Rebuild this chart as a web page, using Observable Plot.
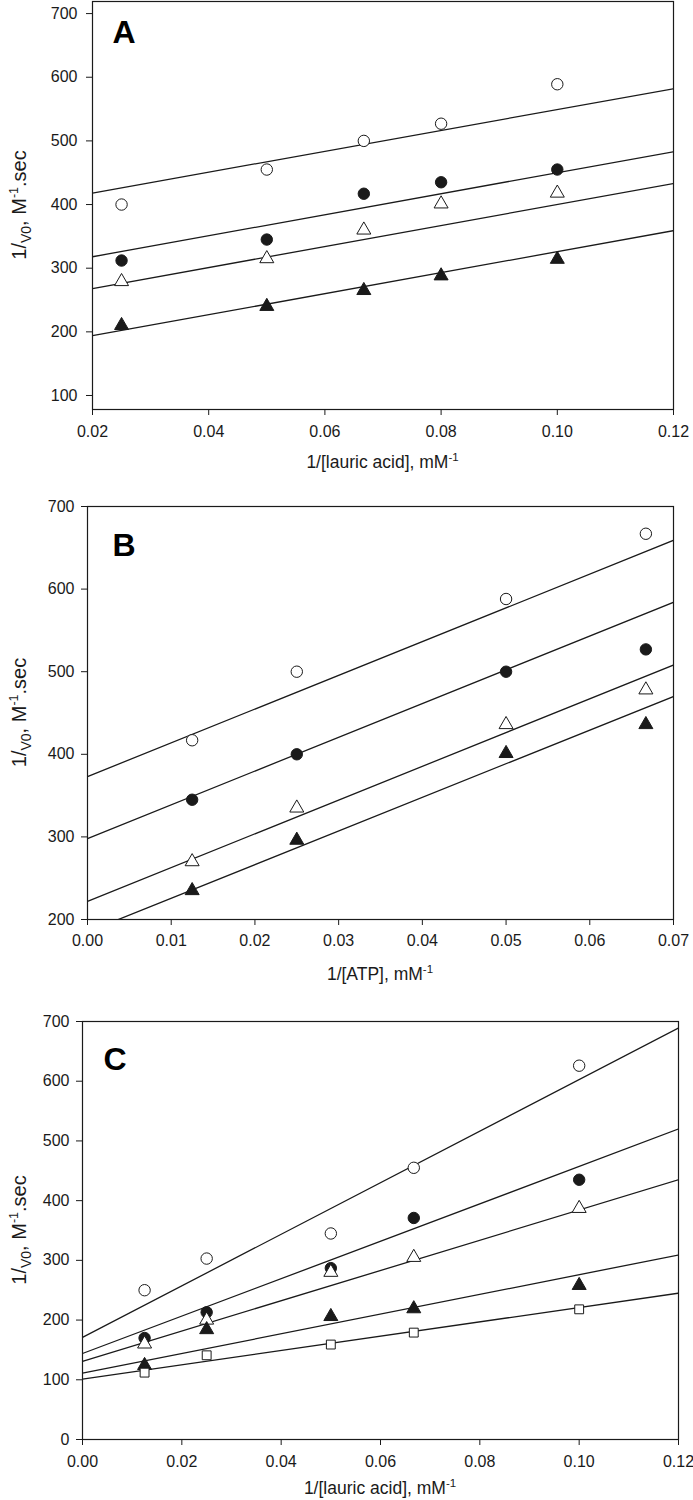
<!DOCTYPE html>
<html><head><meta charset="utf-8">
<script src="https://cdn.jsdelivr.net/npm/d3@7"></script>
<script src="https://cdn.jsdelivr.net/npm/@observablehq/plot@0.6"></script>
<style>
body{margin:0;background:#fff;}
#wrap{position:relative;width:693px;height:1500px;background:#fff;overflow:hidden;}
#wrap svg{position:absolute;left:0;}
</style></head><body><div id="wrap"></div>
<script>
// ---------- Panel A: 1/v0 vs 1/[lauric acid] ----------
const xA = [0.025, 0.05, 0.0667, 0.08, 0.1];
const A_openCircle   = [400, 455, 500, 527, 589];
const A_filledCircle = [312, 345, 417, 435, 455];
const A_openTri      = [279, 315, 360, 401, 418];
const A_filledTri    = [210, 240, 265, 288, 314];
const A_lineX = [0.02, 0.12];
const A_lineOpenCircle   = [418, 582];
const A_lineFilledCircle = [318, 483];
const A_lineOpenTri      = [268, 433];
const A_lineFilledTri    = [194, 359];
const A_xTicks = [0.02, 0.04, 0.06, 0.08, 0.10, 0.12];
const A_yTicks = [100, 200, 300, 400, 500, 600, 700];

// ---------- Panel B: 1/v0 vs 1/[ATP] ----------
const xB = [0.0125, 0.025, 0.05, 0.0667];
const B_openCircle   = [417, 500, 588, 667];
const B_filledCircle = [345, 400, 500, 527];
const B_openTri      = [270, 335, 436, 478];
const B_filledTri    = [235, 296, 401, 436];
const B_lineX = [0, 0.07];
const B_lineOpenCircle   = [373, 659];
const B_lineFilledCircle = [298, 584];
const B_lineOpenTri      = [222, 508];
const B_lineFilledTri    = [185, 470];
const B_xTicks = [0, 0.01, 0.02, 0.03, 0.04, 0.05, 0.06, 0.07];
const B_yTicks = [200, 300, 400, 500, 600, 700];

// ---------- Panel C: 1/v0 vs 1/[lauric acid] ----------
const xC = [0.0125, 0.025, 0.05, 0.0667, 0.1];
const C_openCircle   = [250, 303, 345, 455, 626];
const C_filledCircle = [170, 213, 287, 371, 435];
const C_openTri      = [160, 200, 280, 305, 387];
const C_filledTri    = [124, 184, 206, 219, 258];
const C_openSquare   = [112, 141, 159, 179, 218];
const C_lineX = [0, 0.12];
const C_lineOpenCircle   = [171, 689];
const C_lineFilledCircle = [144, 520];
const C_lineOpenTri      = [131, 435];
const C_lineFilledTri    = [111, 309];
const C_lineOpenSquare   = [101, 245];
const C_xTicks = [0, 0.02, 0.04, 0.06, 0.08, 0.10, 0.12];
const C_yTicks = [0, 100, 200, 300, 400, 500, 600, 700];

const FONT = "'Liberation Sans', Arial, Helvetica, sans-serif";
const INK = "#1a1a1a";

function panel(cfg) {
  const marks = [];
  for (const l of cfg.lines) {
    marks.push(Plot.line([{x: cfg.lineX[0], y: l[0]}, {x: cfg.lineX[1], y: l[1]}],
      {x: "x", y: "y", stroke: INK, strokeWidth: 1.3, clip: true}));
  }
  for (const s of cfg.series) {
    marks.push(Plot.dot(cfg.x.map((x, i) => ({x, y: s.values[i]})),
      {x: "x", y: "y", symbol: s.symbol, r: s.r || 5.7, fill: s.fill, stroke: INK, strokeWidth: 1}));
  }
  marks.push(Plot.frame({stroke: INK, strokeWidth: 1.2}));
  marks.push(Plot.axisX({ticks: cfg.xTicks, tickFormat: d3.format(".2f"), tickSize: 6, tickPadding: cfg.xPad, label: null, stroke: INK}));
  marks.push(Plot.axisY({ticks: cfg.yTicks, tickFormat: d3.format("d"), tickSize: 6, tickPadding: cfg.yPad, label: null, stroke: INK}));
  marks.push(Plot.text([cfg.letter], {text: d => d, frameAnchor: "top-left", textAnchor: "start", lineAnchor: "top",
    dx: cfg.letterDx, dy: cfg.letterDy, fontSize: 32, fontWeight: "bold", fill: "#000"}));

  const svg = Plot.plot({
    width: 693, height: cfg.height,
    marginTop: cfg.mt, marginBottom: cfg.mb, marginLeft: cfg.ml, marginRight: cfg.mr,
    x: {domain: cfg.xDomain},
    y: {domain: cfg.yDomain},
    style: {fontSize: "16px", fontFamily: FONT, color: INK, background: "white", overflow: "visible"},
    marks
  });
  svg.style.top = cfg.top + "px";

  const s = d3.select(svg);
  const plotLeft = cfg.ml, plotRight = 693 - cfg.mr;
  const plotTop = cfg.mt, plotBottom = cfg.height - cfg.mb;
  // x-axis title with superscript
  const xt = s.append("text")
    .attr("x", (plotLeft + plotRight) / 2).attr("y", plotBottom + cfg.xTitleOff)
    .attr("text-anchor", "middle").attr("font-size", 17.5).attr("fill", INK).attr("font-family", FONT);
  xt.append("tspan").text(cfg.xTitle + ", mM");
  xt.append("tspan").attr("dy", -7).attr("font-size", 11.5).text("-1");
  // y-axis title with subscript / superscript
  const yt = s.append("text")
    .attr("transform", `translate(${cfg.yTitleX},${(plotTop + plotBottom) / 2}) rotate(-90)`)
    .attr("text-anchor", "middle").attr("font-size", 20).attr("fill", INK).attr("font-family", FONT);
  yt.append("tspan").text("1/");
  yt.append("tspan").attr("dy", 5).attr("font-size", 14).text("V0");
  yt.append("tspan").attr("dy", -5).text(", M");
  yt.append("tspan").attr("dy", -8).attr("font-size", 12.5).text("-1");
  yt.append("tspan").attr("dy", 8).text(".sec");
  return svg;
}

const wrap = document.getElementById("wrap");

wrap.appendChild(panel({
  top: 0, height: 490, mt: 1, mb: 81, ml: 92, mr: 20,
  xDomain: [0.02, 0.12], yDomain: [78, 719],
  x: xA, lineX: A_lineX,
  series: [
    {values: A_openCircle, symbol: "circle", fill: "white"},
    {values: A_filledCircle, symbol: "circle", fill: INK},
    {values: A_openTri, symbol: "triangle", fill: "white", r: 5.2},
    {values: A_filledTri, symbol: "triangle", fill: INK, r: 5.2}
  ],
  lines: [A_lineOpenCircle, A_lineFilledCircle, A_lineOpenTri, A_lineFilledTri],
  xTicks: A_xTicks, yTicks: A_yTicks, xPad: 10, yPad: 9,
  letter: "A", letterDx: 20, letterDy: 19,
  xTitle: "1/[lauric acid]", xTitleOff: 59, yTitleX: 26
}));

wrap.appendChild(panel({
  top: 490, height: 510, mt: 16, mb: 81, ml: 87, mr: 20,
  xDomain: [0, 0.07], yDomain: [200, 700],
  x: xB, lineX: B_lineX,
  series: [
    {values: B_openCircle, symbol: "circle", fill: "white"},
    {values: B_filledCircle, symbol: "circle", fill: INK},
    {values: B_openTri, symbol: "triangle", fill: "white", r: 5.2},
    {values: B_filledTri, symbol: "triangle", fill: INK, r: 5.2}
  ],
  lines: [B_lineOpenCircle, B_lineFilledCircle, B_lineOpenTri, B_lineFilledTri],
  xTicks: B_xTicks, yTicks: B_yTicks, xPad: 9, yPad: 7,
  letter: "B", letterDx: 25, letterDy: 27,
  xTitle: "1/[ATP]", xTitleOff: 61, yTitleX: 26
}));

wrap.appendChild(panel({
  top: 1000, height: 500, mt: 21, mb: 61, ml: 82, mr: 15,
  xDomain: [0, 0.12], yDomain: [0, 700],
  x: xC, lineX: C_lineX,
  series: [
    {values: C_openCircle, symbol: "circle", fill: "white"},
    {values: C_filledCircle, symbol: "circle", fill: INK},
    {values: C_openTri, symbol: "triangle", fill: "white", r: 5.2},
    {values: C_filledTri, symbol: "triangle", fill: INK, r: 5.2},
    {values: C_openSquare, symbol: "square", fill: "white", r: 5}
  ],
  lines: [C_lineOpenCircle, C_lineFilledCircle, C_lineOpenTri, C_lineFilledTri, C_lineOpenSquare],
  xTicks: C_xTicks, yTicks: C_yTicks, xPad: 10, yPad: 7,
  letter: "C", letterDx: 21, letterDy: 26,
  xTitle: "1/[lauric acid]", xTitleOff: 55, yTitleX: 26
}));
</script></body></html>
